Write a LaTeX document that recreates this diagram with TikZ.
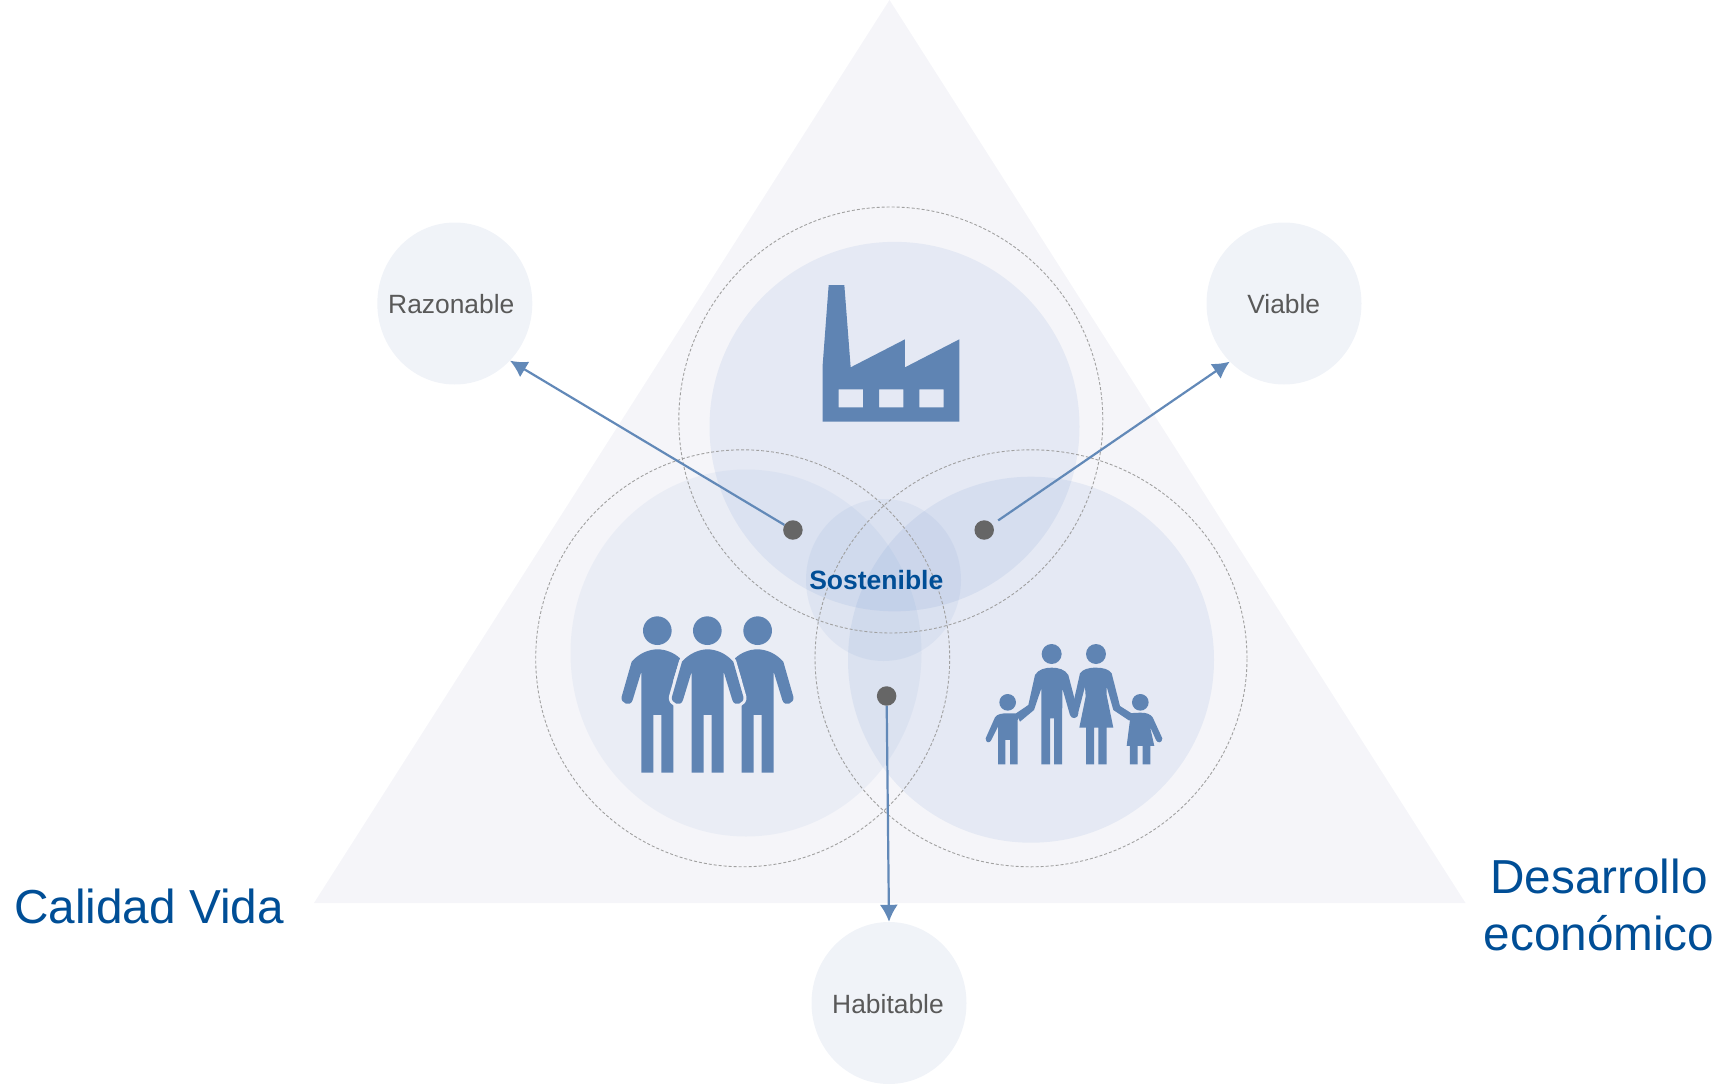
\documentclass[tikz,border=0pt]{standalone}
\usepackage{fontspec}
\setmainfont{Liberation Sans}
\usetikzlibrary{shapes.geometric,arrows.meta}
\definecolor{icon}{HTML}{5F84B3}
\definecolor{linkblue}{HTML}{6289B8}
\definecolor{discblue}{HTML}{5A84C8}
\definecolor{tri}{HTML}{F5F5F9}
\definecolor{bubble}{HTML}{F0F3F8}
\definecolor{titleblue}{HTML}{004E96}
\definecolor{labelgray}{HTML}{595959}
\definecolor{dotgray}{HTML}{666666}
\definecolor{ringgray}{HTML}{A0A0A0}
\definecolor{bgleft}{HTML}{EBEDF5}
\tikzset{
  bub/.style={ellipse,draw=none,inner sep=0pt,minimum width=155pt,minimum height=162pt,fill=bubble},
  disc/.style={ellipse,draw=none,inner sep=0pt,fill=discblue,fill opacity=#1},
  ring/.style={ellipse,inner sep=0pt,draw=ringgray,line width=0.9pt,dash pattern=on 3pt off 2pt},
  lab/.style={text=labelgray,font=\fontsize{26.4}{30}\selectfont,inner sep=0pt},
  big/.style={text=titleblue,font=\fontsize{47.7}{57.6}\selectfont,inner sep=0pt,align=center},
  dot/.style={circle,fill=dotgray,inner sep=0pt,minimum size=19.5pt},
  conn/.style={draw=linkblue,line width=2.2pt,-{Latex[length=17pt,width=18pt]}},
  iconfill/.style={fill=icon,draw=none}
}
\newcommand{\middleman}{(-48,518) -- (-12,518) -- (-12,345) -- (12,345) -- (12,518) -- (48,518) -- (48,215) -- (74,300) .. controls (80,322) and (112,310) .. (107,290) -- (77,185) .. controls (55,160) and (25,148) .. (0,148) .. controls (-25,148) and (-55,160) .. (-77,185) -- (-107,290) .. controls (-112,310) and (-80,322) .. (-74,300) -- (-48,215) -- cycle}
\newcommand{\leftman}{(-48,518) -- (-12,518) -- (-12,345) -- (12,345) -- (12,518) -- (48,518) -- (48,240) -- (68,175) .. controls (50,158) and (25,148) .. (0,148) .. controls (-25,148) and (-55,160) .. (-77,185) -- (-107,290) .. controls (-112,310) and (-80,322) .. (-74,300) -- (-48,215) -- cycle}
\newcommand{\rightman}{(48,518) -- (12,518) -- (12,345) -- (-12,345) -- (-12,518) -- (-48,518) -- (-48,240) -- (-68,175) .. controls (-50,158) and (-25,148) .. (0,148) .. controls (25,148) and (55,160) .. (77,185) -- (107,290) .. controls (112,310) and (80,322) .. (74,300) -- (48,215) -- cycle}
\begin{document}
\begin{tikzpicture}[x=1pt,y=-1pt]
\useasboundingbox (0,0) rectangle (1724,1084);
\fill[tri] (889.5,0) -- (1465.5,903) -- (314,903) -- cycle;
% discs
\node[disc=0.10,minimum width=370pt,minimum height=369.5pt] (dtop) at (894.5,426.6) {};
\node[disc=0.065,minimum width=351pt,minimum height=367pt] (dleft) at (746,653) {};
\node[disc=0.10,minimum width=366pt,minimum height=366pt] (dright) at (1031,659.7) {};
\node[disc=0.08,minimum width=155pt,minimum height=162pt] (dcentre) at (883.5,580) {};
% rings
\node[ring,minimum width=424pt,minimum height=426pt] (rtop) at (890.8,420) {};
\node[ring,minimum width=414pt,minimum height=417pt] (rleft) at (742.7,658.3) {};
\node[ring,minimum width=432pt,minimum height=417pt] (rright) at (1031,658.3) {};
% outer bubbles
\node[bub] (raz) at (454.8,303.5) {};
\node[bub] (via) at (1284,303.5) {};
\node[bub] (hab) at (889,1003) {};
\node[lab] (tr) at (451.3,304) {Razonable};
\node[lab] (tv) at (1283.7,304) {Viable};
\node[lab] (th) at (888,1004) {Habitable};
\node[text=titleblue,font=\bfseries\fontsize{26.5}{30}\selectfont,inner sep=0pt] (ts) at (876.3,580) {Sostenible};
\node[big] (tc) at (149,906.5) {Calidad Vida};
\node[big] (td) at (1599,905) {Desarrollo\\económico};
% dots and connectors
\node[dot] (d1) at (792.9,530) {};
\node[dot] (d2) at (984.2,530) {};
\node[dot] (d3) at (886.6,696) {};
\draw[conn] (d1) -- (raz.-46);
\draw[conn,shorten <=7pt] (d2) -- (via.-133);
\draw[conn] (d3) -- (hab.north);
% factory
\begin{scope}[shift={(800,270)},x=0.3333pt,y=-0.3333pt]
\fill[iconfill,even odd rule] (86,45) -- (133,45) -- (152,292) -- (315,208) -- (315,292) -- (478,208) -- (478,455) -- (68,455) -- (68,285) -- cycle
  (116,358) rectangle (189,412) (237,358) rectangle (310,412) (358,358) rectangle (431,412);
\end{scope}
% three people
\begin{scope}[shift={(600,600)},x=0.3333pt,y=-0.3333pt]
\fill[iconfill] (172,92) circle[radius=43] (322,92) circle[radius=43] (473,92) circle[radius=43];
\begin{scope}[shift={(172,0)}]
\fill[iconfill] \leftman;
\end{scope}
\begin{scope}[shift={(473,0)}]
\fill[iconfill] \rightman;
\end{scope}
\begin{scope}[shift={(323,0)}]
\path[fill=bgleft,draw=bgleft,line width=6pt,line join=round] \middleman;
\fill[iconfill] \middleman;
\end{scope}
\end{scope}
% family
\begin{scope}[shift={(970,630)},x=0.3333pt,y=-0.3333pt]
\fill[iconfill] (245,72) circle[radius=30] (378,72) circle[radius=30] (113,217) circle[radius=25] (511,217) circle[radius=25];
\fill[iconfill] (214,403) -- (214,175) -- (192,240) -- (150,275) -- (138,250) -- (175,225) -- (195,135) .. controls (205,118) and (225,113) .. (245,113) .. controls (265,113) and (285,118) .. (295,135) -- (325,250) .. controls (325,268) and (303,268) .. (300,255) -- (277,175) -- (276,403) -- (252,403) -- (252,265) -- (240,265) -- (240,403) -- cycle;
\fill[iconfill] (378,113) .. controls (355,113) and (338,118) .. (330,130) -- (303,250) -- (322,258) -- (345,170) -- (347,200) -- (328,293) -- (348,293) -- (348,403) -- (372,403) -- (372,293) -- (385,293) -- (385,403) -- (410,403) -- (410,293) -- (430,293) -- (410,195) -- (410,170) -- (430,240) -- (478,272) -- (488,252) -- (450,228) -- (425,130) .. controls (418,118) and (400,113) .. (378,113) -- cycle;
\fill[iconfill] (113,250) .. controls (95,250) and (82,252) .. (75,262) -- (47,325) .. controls (47,340) and (60,340) .. (64,330) -- (84,290) -- (84,403) -- (106,403) -- (106,330) -- (120,330) -- (120,403) -- (143,403) -- (143,270) -- (150,250) -- cycle;
\fill[iconfill] (511,248) .. controls (530,248) and (540,252) .. (548,262) -- (577,325) .. controls (577,340) and (562,340) .. (558,330) -- (540,290) -- (553,348) -- (541,348) -- (541,403) -- (518,403) -- (518,348) -- (503,348) -- (503,403) -- (480,403) -- (480,348) -- (470,348) -- (480,270) -- (470,250) -- cycle;
\end{scope}
\end{tikzpicture}
\end{document}
